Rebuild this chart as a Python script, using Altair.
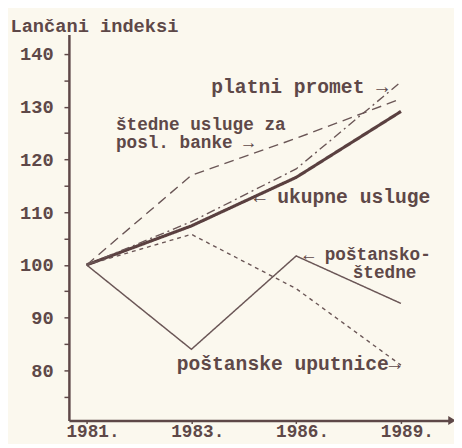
import altair as alt
import pandas as pd

# ---- data ----
years = ["1981.", "1983.", "1986.", "1989."]
ukupne_usluge = [100, 107.4, 116.6, 129.1]
platni_promet = [100, 108.2, 118.2, 134.7]
stedne_usluge_banke = [100, 117.0, 124.0, 131.5]
postanske_uputnice = [100, 105.8, 95.5, 81.0]
postansko_stedne = [100, 84.0, 101.7, 92.7]

series_names = ["ukupne", "platni", "stedne", "uputnice", "postansko"]
series_values = [ukupne_usluge, platni_promet, stedne_usluge_banke,
                 postanske_uputnice, postansko_stedne]

# annotation labels (position in data units: year index, index value)
# single-line labels
ann1_text = ["platni promet →", "← ukupne usluge", "poštanske uputnice→"]
ann1_idx = [1.19, 1.594, 0.86]
ann1_val = [133.8, 112.9, 81.2]
# two-line labels
ann2_text = ["štedne usluge za", "posl. banke →", "← poštansko-", "štedne"]
ann2_idx = [0.28, 0.28, 2.07, 2.54]
ann2_val = [126.6, 123.1, 101.9, 98.4]

# ---- build tables ----
rows = []
for name, vals in zip(series_names, series_values):
    for i, v in enumerate(vals):
        rows.append({"series": name, "idx": i, "value": v})
df = pd.DataFrame(rows)
ann1 = pd.DataFrame({"label": ann1_text, "idx": ann1_idx, "value": ann1_val})
ann2 = pd.DataFrame({"label": ann2_text, "idx": ann2_idx, "value": ann2_val})

XMIN, XMAX = -0.169, 3.4875
YMIN, YMAX = 70.5, 143.7

FONT = "Liberation Mono"
INK = "#5e4848"
LINE = "#6a5656"
BG = "#fbf8ee"

label_expr = "[" + ",".join("'%s'" % y for y in years) + "][datum.value]"

x_enc = alt.X(
    "idx:Q",
    scale=alt.Scale(domain=[XMIN, XMAX], nice=False, zero=False),
    axis=alt.Axis(values=list(range(len(years))), labelExpr=label_expr,
                  title=None, grid=False, domainWidth=2.5, domainColor=INK,
                  tickColor=INK, tickSize=3, tickWidth=1.5,
                  labelFont=FONT, labelFontSize=18, labelFontWeight="bold",
                  labelColor=INK, labelPadding=-1, labelOffset=6,
                  labelFlush=False, labelOverlap=False),
)
y_enc = alt.Y(
    "value:Q",
    scale=alt.Scale(domain=[YMIN, YMAX], nice=False, zero=False),
    axis=alt.Axis(values=list(range(75, 145, 5)),
                  labelExpr="datum.value % 10 == 0 ? datum.value : ''",
                  title="Lančani indeksi", titleAngle=0, titleAlign="left",
                  titleBaseline="middle", titleX=-60, titleY=-9,
                  titleFont=FONT, titleFontSize=19, titleFontWeight="bold",
                  titleColor=INK, grid=False, domainWidth=2.5,
                  domainColor=INK, tickColor=INK, tickSize=5, tickWidth=1.5,
                  labelFont=FONT, labelFontSize=19, labelFontWeight="bold",
                  labelColor=INK, labelPadding=11, labelOverlap=False,
                  labelFlush=False),
)

styles = {
    "ukupne": dict(strokeWidth=3.2, strokeDash=[1, 0], color="#5a4040"),
    "platni": dict(strokeWidth=1.4, strokeDash=[9, 4, 2, 4], color=LINE),
    "stedne": dict(strokeWidth=1.4, strokeDash=[10, 6], color=LINE),
    "uputnice": dict(strokeWidth=1.4, strokeDash=[4, 4], color=LINE),
    "postansko": dict(strokeWidth=1.5, strokeDash=[1, 0], color=LINE),
}

base = alt.Chart(df).encode(x=x_enc, y=y_enc)
layers = []
for name in series_names:
    st = styles[name]
    layers.append(
        base.transform_filter(alt.datum.series == name).mark_line(
            strokeWidth=st["strokeWidth"], strokeDash=st["strokeDash"],
            color=st["color"])
    )

text1 = alt.Chart(ann1).mark_text(
    font=FONT, fontSize=20, fontWeight="bold", color=INK,
    align="left", baseline="middle"
).encode(x=x_enc, y=y_enc, text="label:N")
text2 = alt.Chart(ann2).mark_text(
    font=FONT, fontSize=18, fontWeight="bold", color=INK,
    align="left", baseline="middle"
).encode(x=x_enc, y=y_enc, text="label:N")

arrow_df = pd.DataFrame({"idx": [XMAX], "value": [YMIN]})
arrow = alt.Chart(arrow_df).mark_point(
    shape="triangle-right", filled=True, size=80, color=INK, opacity=1
).encode(x=x_enc, y=y_enc)

chart = alt.layer(*layers, text1, text2, arrow).properties(
    width=390, height=393,
    padding={"left": 62, "top": 23, "right": 2, "bottom": 20},
    autosize=alt.AutoSizeParams(type="none"),
    background=BG,
).configure_view(stroke=None)

chart.save("out.html", embed_options={"renderer": "svg", "actions": False})
